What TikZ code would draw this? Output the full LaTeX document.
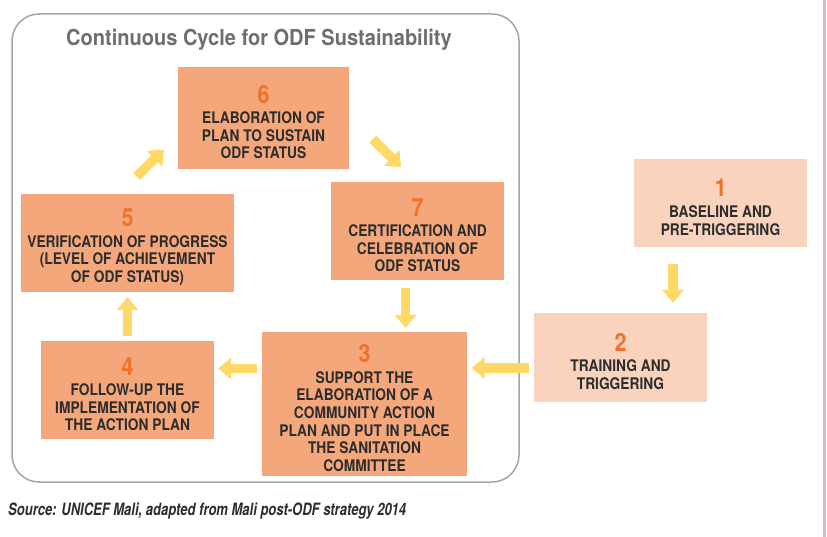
\documentclass[tikz,border=0pt]{standalone}
\usepackage{fontspec}
\setmainfont{TeX Gyre Heros}
\newfontfamily\condfont{TeX Gyre Heros}[FakeStretch=0.86]
\newfontfamily\titlefont{TeX Gyre Heros}[FakeStretch=0.91]
\newfontfamily\srcfont{TeX Gyre Heros}[FakeStretch=0.765]
\usetikzlibrary{arrows.meta}

\definecolor{boxdark}{RGB}{245,167,124}
\definecolor{boxlight}{RGB}{250,211,191}
\definecolor{numorange}{RGB}{240,114,40}
\definecolor{txtdark}{RGB}{45,45,45}
\definecolor{titlegrey}{RGB}{110,110,112}
\definecolor{arrowyellow}{RGB}{255,216,102}
\definecolor{framegrey}{RGB}{165,165,165}
\definecolor{edgepink}{RGB}{222,186,190}

% step number on top of each box (the strut leaves a little air above it)
\newcommand\stepno[1]{{\rule{0pt}{26pt}\fontsize{25}{25}\selectfont\color{numorange}#1}\\[3pt]}

\tikzset{
  stepbox/.style={inner sep=0pt, align=center, text=txtdark,
    font=\condfont\bfseries\fontsize{16}{17.6}\selectfont},
  darkbox/.style={stepbox, fill=boxdark},
  lightbox/.style={stepbox, fill=boxlight},
  yarrow/.style={draw=arrowyellow, line width=9.5pt,
    -{Triangle[width=21pt,length=13pt]}},
}

\begin{document}
\begin{tikzpicture}[x=1pt,y=-1pt]
\useasboundingbox (0,0) rectangle (827,537);
\fill[white] (0,0) rectangle (827,537);

% right margin rule
\draw[edgepink, line width=2.5pt] (824.5,0) -- (824.5,537);

% frame around the continuous cycle
\draw[framegrey, line width=1.5pt, rounded corners=27pt] (12,14) rectangle (519,482);
\node[anchor=base, text=titlegrey, font=\titlefont\bfseries\fontsize{22}{24}\selectfont]
  (title) at (259,46) {Continuous Cycle for ODF Sustainability};

% steps
\node[lightbox, minimum width=173pt, minimum height=88pt] (b1) at (720.5,203)
  {\stepno{1}BASELINE AND\\PRE-TRIGGERING};
\node[lightbox, minimum width=173pt, minimum height=89pt] (b2) at (620.5,357.5)
  {\stepno{2}TRAINING AND\\TRIGGERING};
\node[darkbox, minimum width=205pt, minimum height=144pt] (b3) at (364.5,404)
  {\stepno{3}SUPPORT THE\\ELABORATION OF A\\COMMUNITY ACTION\\PLAN AND PUT IN PLACE\\THE SANITATION\\COMMITTEE};
\node[darkbox, minimum width=173pt, minimum height=98pt] (b4) at (127.5,390)
  {\stepno{4}FOLLOW-UP THE\\IMPLEMENTATION OF\\THE ACTION PLAN};
\node[darkbox, minimum width=213pt, minimum height=98pt] (b5) at (127.5,243)
  {\stepno{5}VERIFICATION OF PROGRESS\\(LEVEL OF ACHIEVEMENT\\OF ODF STATUS)};
\node[darkbox, minimum width=171pt, minimum height=102pt] (b6) at (263.5,118)
  {\stepno{6}ELABORATION OF\\PLAN TO SUSTAIN\\ODF STATUS};
\node[darkbox, minimum width=173pt, minimum height=98pt] (b7) at (417.5,231)
  {\stepno{7}CERTIFICATION AND\\CELEBRATION OF\\ODF STATUS};

% arrows between steps
\draw[yarrow, shorten <=17pt, shorten >=10pt]
  ([xshift=-47.5pt]b1.south) -- ([xshift=52.5pt]b2.north);
\draw[yarrow, shorten <=5pt, shorten >=4.5pt]
  ([yshift=-10.5pt]b2.west) -- ([yshift=36pt]b3.east);
\draw[yarrow, shorten <=5pt, shorten >=4pt]
  ([yshift=35.5pt]b3.west) -- ([yshift=21.5pt]b4.east);
\draw[yarrow, shorten <=4.5pt, shorten >=5pt]
  (b4.north) -- (b5.south);
\draw[yarrow]
  ([xshift=9.2pt,yshift=17.3pt]b5.north) -- ([xshift=-14pt,yshift=19.7pt]b6.south west);
\draw[yarrow]
  ([xshift=23.7pt,yshift=-21.3pt]b6.east) -- ([xshift=-16.5pt,yshift=14.7pt]b7.north);
\draw[yarrow, shorten <=8pt, shorten >=4pt]
  ([xshift=-12pt]b7.south) -- ([xshift=41pt]b3.north);

% source line
\node[anchor=base west, inner sep=0pt, text=txtdark,
  font=\srcfont\bfseries\itshape\fontsize{17}{19}\selectfont]
  (source) at (8,515) {Source: UNICEF Mali, adapted from Mali post-ODF strategy 2014};
\end{tikzpicture}
\end{document}
